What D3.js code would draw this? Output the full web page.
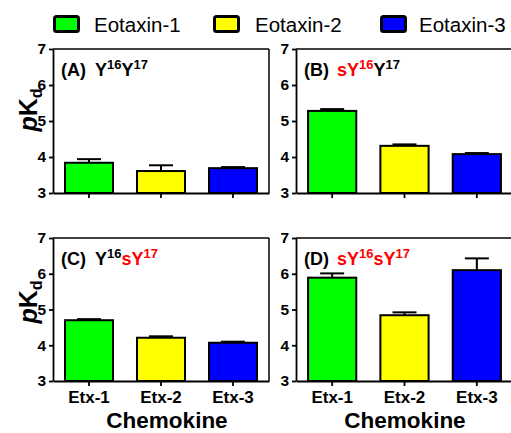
<!DOCTYPE html>
<html><head><meta charset="utf-8">
<script src="https://cdn.jsdelivr.net/npm/d3@7"></script>
<style>
body{margin:0;background:#fff;}
text{font-family:"Liberation Sans",Arial,sans-serif;}
</style></head>
<body><svg id="c" width="511" height="433"></svg>
<script>
const categories = ["Etx-1","Etx-2","Etx-3"];
const seriesNames = ["Eotaxin-1","Eotaxin-2","Eotaxin-3"];
const colors = ["#00ff00","#ffff00","#0000ff"];
const yTicks = [3,4,5,6,7];
const valuesA = [3.84,3.61,3.69], errA = [0.10,0.16,0.03];
const valuesB = [5.28,4.31,4.08], errB = [0.05,0.04,0.03];
const valuesC = [4.70,4.21,4.07], errC = [0.03,0.04,0.03];
const valuesD = [5.89,4.84,6.10], errD = [0.12,0.08,0.33];

const svg = d3.select("#c");
const RED = "#ff0000";

const panels = [
  {x:53, y:49, w:216, h:144, vals:valuesA, errs:errA, title:[["(A)","#000",0],["Y","#000",9],["16","#000",0,"sup"],["Y","#000",0],["17","#000",0,"sup"]], ylab:110},
  {x:296, y:49, w:217, h:144, vals:valuesB, errs:errB, title:[["(B)","#000",0],["sY","red",8],["16","red",0,"sup"],["Y","#000",0],["17","#000",0,"sup"]]},
  {x:53, y:238, w:216, h:143, vals:valuesC, errs:errC, title:[["(C)","#000",0],["Y","#000",9],["16","#000",0,"sup"],["sY","red",0],["17","red",0,"sup"]], ylab:302, xlab:167},
  {x:296, y:238, w:217, h:143, vals:valuesD, errs:errD, title:[["(D)","#000",0],["sY","red",8],["16","red",0,"sup"],["sY","red",0],["17","red",0,"sup"]], xlab:405}
];

panels.forEach(p => {
  const g = svg.append("g").attr("transform", `translate(${p.x},${p.y})`);
  const x = d3.scaleBand().domain(categories).range([0,p.w]).paddingInner(1/3).paddingOuter(1/6);
  const y = d3.scaleLinear().domain([3,7]).range([p.h,0]);
  g.selectAll("rect.bar").data(p.vals).join("rect").attr("class","bar")
    .attr("x",(d,i)=>x(categories[i])).attr("width",x.bandwidth())
    .attr("y",d=>y(d)).attr("height",d=>y(3)-y(d))
    .attr("fill",(d,i)=>colors[i]).attr("stroke","#000").attr("stroke-width",2);
  p.vals.forEach((v,i)=>{
    const cx = x(categories[i]) + x.bandwidth()/2;
    g.append("line").attr("x1",cx).attr("x2",cx).attr("y1",y(v)).attr("y2",y(v+p.errs[i])).attr("stroke","#000").attr("stroke-width",2);
    g.append("line").attr("x1",cx-12).attr("x2",cx+12).attr("y1",y(v+p.errs[i])).attr("y2",y(v+p.errs[i])).attr("stroke","#000").attr("stroke-width",2);
  });
  g.append("line").attr("x1",0).attr("x2",p.w).attr("y1",0).attr("y2",0).attr("stroke","#000").attr("stroke-width",1.5);
  g.append("line").attr("x1",p.w).attr("x2",p.w).attr("y1",0).attr("y2",p.h).attr("stroke","#000").attr("stroke-width",1.5);
  const ya = g.append("g").call(d3.axisLeft(y).tickValues(yTicks).tickFormat(d3.format("d")).tickSize(4).tickSizeOuter(0).tickPadding(3));
  ya.selectAll("path,line").attr("stroke","#000").attr("stroke-width",1.8);
  ya.selectAll("text").attr("font-size",15.5).attr("font-weight","bold").attr("fill","#000").attr("font-family","Liberation Sans, Arial, sans-serif");
  const xa = g.append("g").attr("transform",`translate(0,${p.h})`).call(d3.axisBottom(x).tickSize(5).tickSizeOuter(0).tickPadding(5));
  xa.selectAll("path,line").attr("stroke","#000").attr("stroke-width",1.8);
  xa.selectAll("text").attr("font-size",17).attr("font-weight","bold").attr("fill","#000").attr("font-family","Liberation Sans, Arial, sans-serif")
    .style("display", p.y > 100 ? null : "none");
  const t = g.append("text").attr("x",8).attr("y",27).attr("font-size",18).attr("font-weight","bold");
  let sup = false;
  p.title.forEach(([s,col,dx,kind])=>{
    const ts = t.append("tspan").text(s).attr("fill", col==="red"?RED:col);
    if (dx) ts.attr("dx",dx);
    if (kind==="sup") { ts.attr("font-size",13).attr("dy",-7); sup = true; }
    else if (sup) { ts.attr("dy",7); sup = false; }
  });
  if (p.ylab) {
    const yl = svg.append("text").attr("transform",`translate(37,${p.ylab}) rotate(-90)`)
      .attr("text-anchor","middle").attr("font-size",25).attr("font-weight","bold");
    yl.append("tspan").text("p").attr("font-style","italic");
    yl.append("tspan").text("K");
    yl.append("tspan").text("d").attr("font-size",16).attr("dy",5);
  }
  if (p.xlab) {
    svg.append("text").attr("x",p.xlab).attr("y",428).attr("text-anchor","middle")
      .attr("font-size",22.5).attr("font-weight","bold").text("Chemokine");
  }
});

const legX = [54.5, 214.5, 381.5];
const textX = [94, 255, 419];
seriesNames.forEach((n,i)=>{
  svg.append("rect").attr("x",legX[i]).attr("y",16.5).attr("width",24).attr("height",15).attr("rx",2)
    .attr("fill",colors[i]).attr("stroke","#000").attr("stroke-width",3);
  svg.append("text").attr("x",textX[i]).attr("y",32).attr("font-size",20.5).attr("fill","#000").text(n);
});
</script></body></html>
